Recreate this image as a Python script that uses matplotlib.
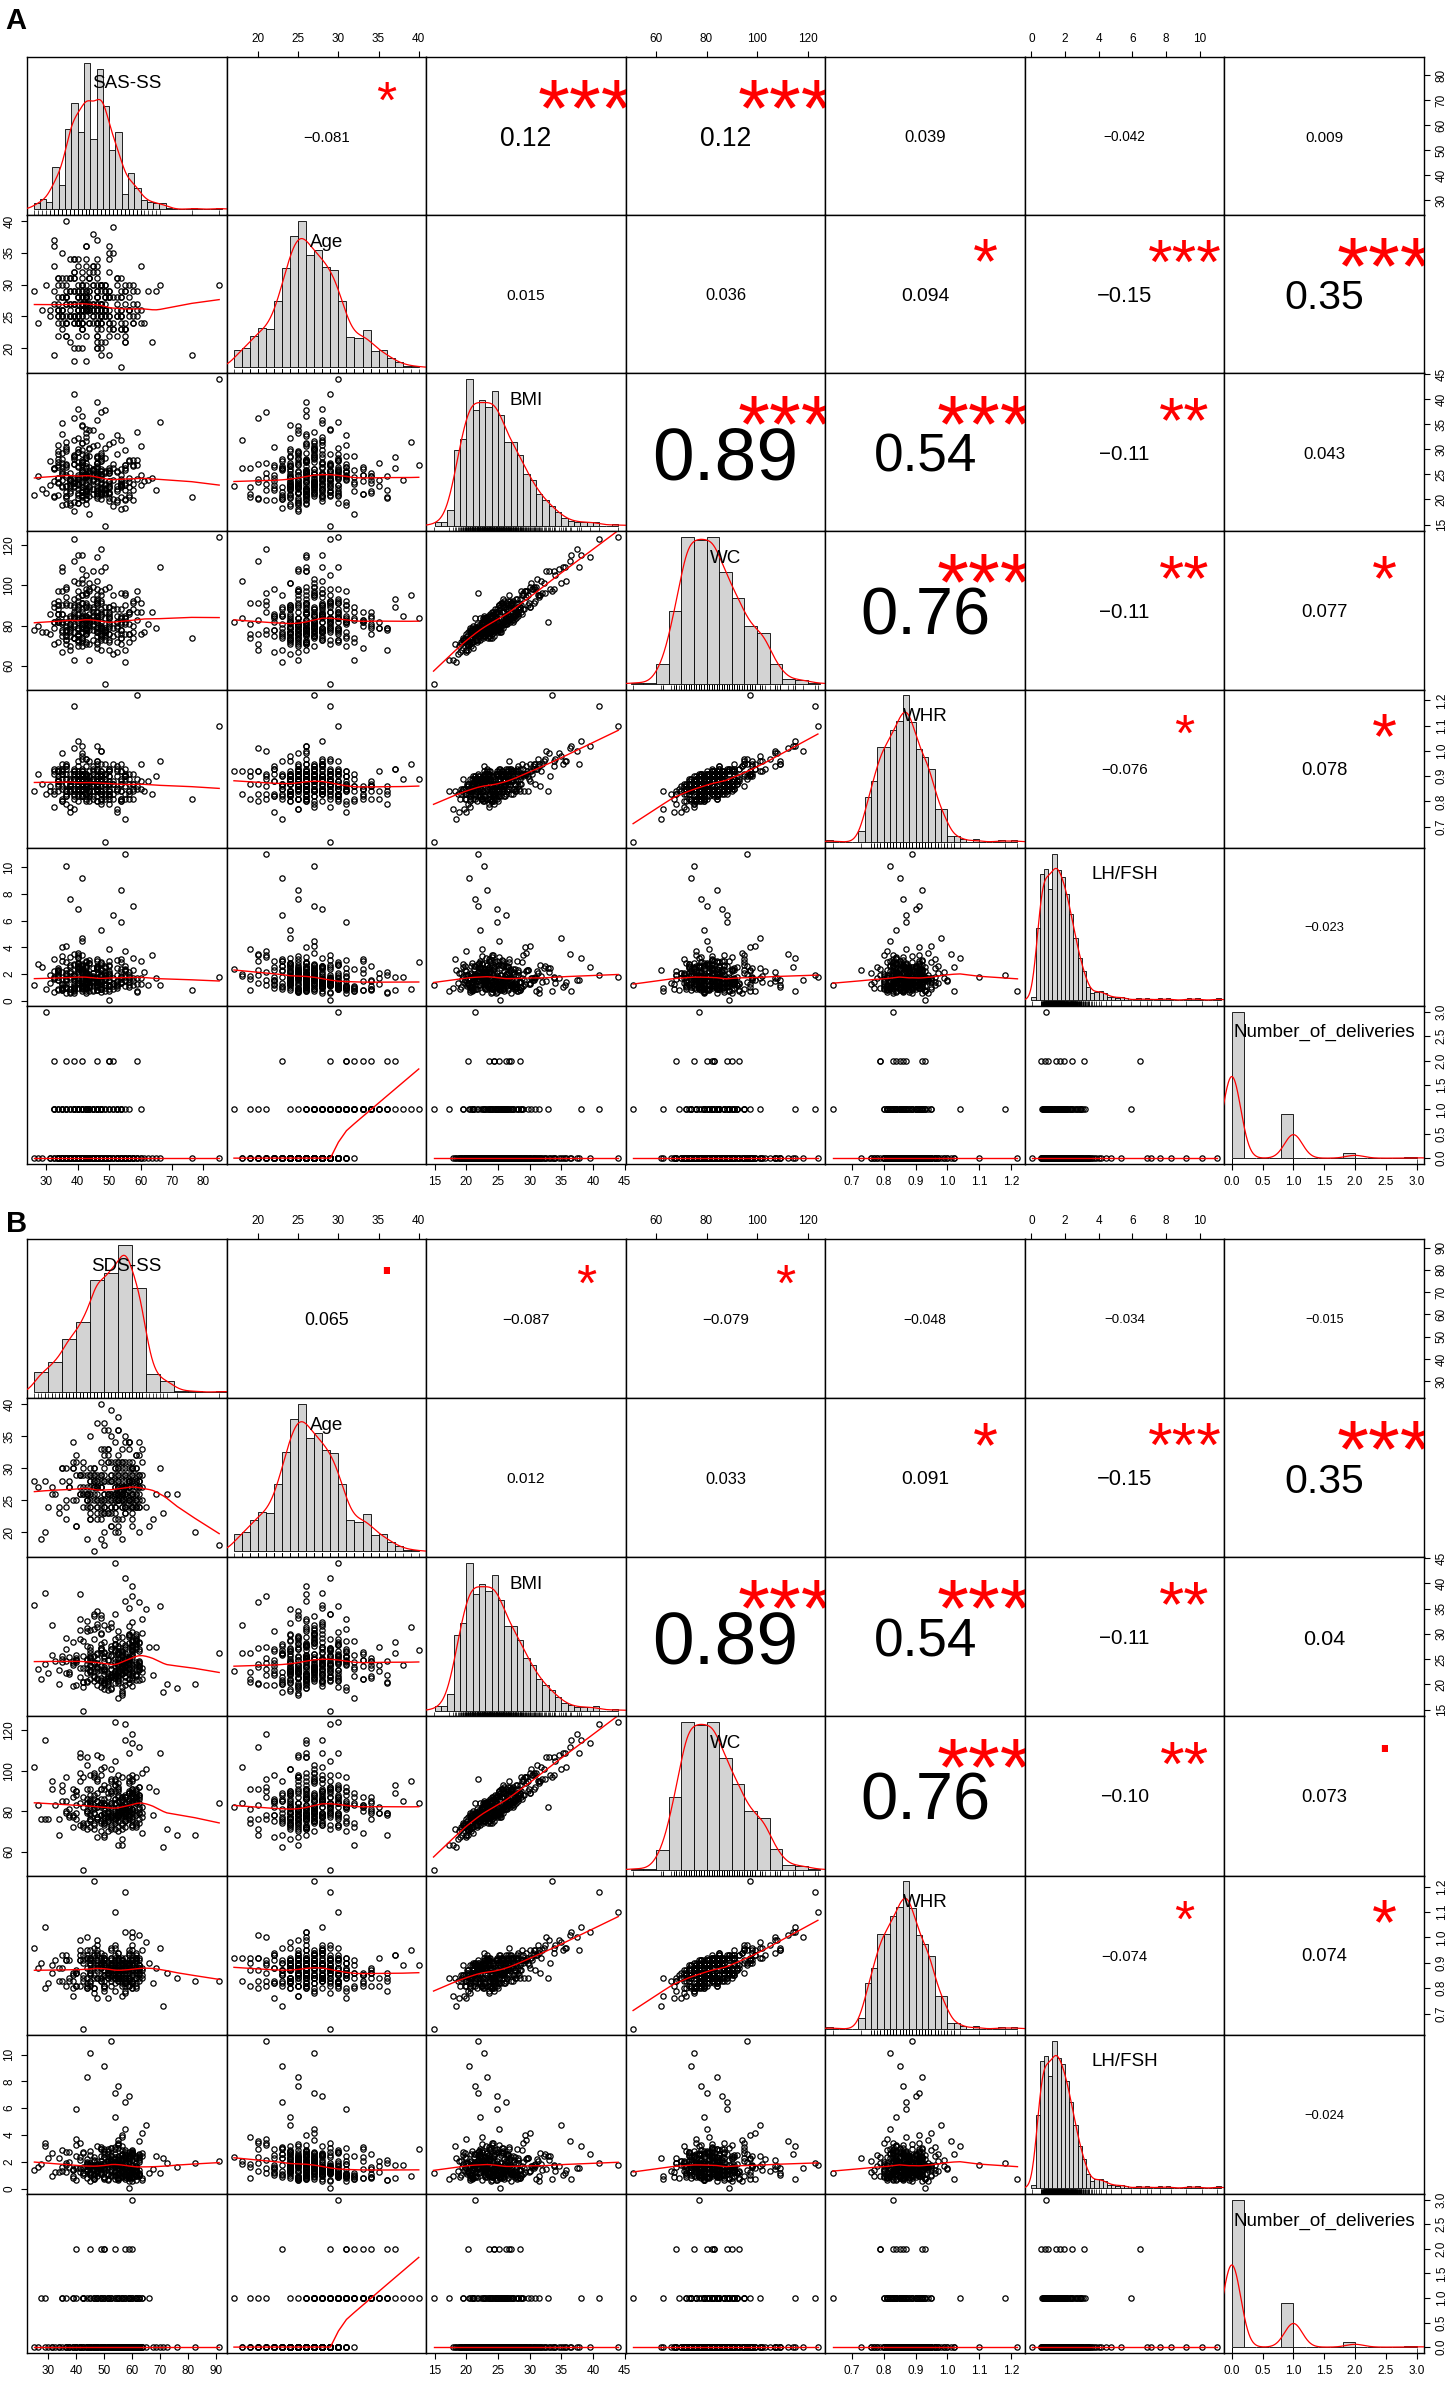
import numpy as np
import matplotlib
matplotlib.use("Agg")
import matplotlib.pyplot as plt
import matplotlib.transforms as mtransforms

plt.rcParams['font.family'] = ['Liberation Sans', 'DejaVu Sans']

# ---- subject values (one entry per woman, 10 per line) ----
sas_ss = [
    33.75, 38.75, 47.50, 52.50, 41.25, 56.25, 36.25, 50.00, 46.25, 42.50,
    40.00, 48.75, 58.75, 33.75, 46.25, 41.25, 53.75, 35.00, 37.50, 47.50,
    50.00, 42.50, 36.25, 53.75, 55.00, 40.00, 35.00, 48.75, 41.25, 32.50,
    46.25, 57.50, 41.25, 38.75, 32.50, 42.50, 47.50, 35.00, 51.25, 55.00,
    37.50, 56.25, 50.00, 42.50, 40.00, 46.25, 33.75, 52.50, 38.75, 60.00,
    47.50, 41.25, 33.75, 48.75, 58.75, 36.25, 42.50, 50.00, 37.50, 46.25,
    42.50, 53.75, 35.00, 40.00, 47.50, 52.50, 38.75, 41.25, 56.25, 45.00,
    48.75, 36.25, 46.25, 55.00, 41.25, 51.25, 47.50, 30.00, 42.50, 40.00,
    57.50, 47.50, 40.00, 33.75, 37.50, 52.50, 41.25, 46.25, 50.00, 35.00,
    41.25, 45.00, 53.75, 38.75, 48.75, 42.50, 32.50, 55.00, 36.25, 47.50,
    46.25, 40.00, 36.25, 50.00, 32.50, 53.75, 41.25, 58.75, 47.50, 42.50,
    38.75, 48.75, 60.00, 41.25, 46.25, 37.50, 52.50, 35.00, 40.00, 50.00,
    53.75, 42.50, 36.25, 47.50, 33.75, 55.00, 41.25, 38.75, 46.25, 28.75,
    50.00, 57.50, 47.50, 40.00, 42.50, 36.25, 35.00, 48.75, 53.75, 41.25,
    42.50, 37.50, 31.25, 46.25, 51.25, 40.00, 55.00, 61.25, 38.75, 47.50,
    56.25, 47.50, 41.25, 36.25, 45.00, 50.00, 42.50, 46.25, 33.75, 48.75,
    40.00, 33.75, 52.50, 43.75, 38.75, 41.25, 47.50, 45.00, 56.25, 42.50,
    46.25, 41.25, 55.00, 48.75, 36.25, 45.00, 50.00, 40.00, 42.50, 37.50,
    53.75, 35.00, 38.75, 42.50, 47.50, 43.75, 31.25, 46.25, 41.25, 50.00,
    41.25, 48.75, 45.00, 37.50, 58.75, 52.50, 40.00, 46.25, 42.50, 57.50,
    33.75, 36.25, 47.50, 41.25, 43.75, 38.75, 50.00, 42.50, 45.00, 35.00,
    43.75, 50.00, 40.00, 46.25, 42.50, 47.50, 85.00, 41.25, 53.75, 56.25,
    38.75, 46.25, 42.50, 35.00, 60.00, 40.00, 47.50, 43.75, 37.50, 51.25,
    47.50, 42.50, 48.75, 33.75, 45.00, 41.25, 46.25, 55.00, 53.75, 40.00,
    42.50, 32.50, 37.50, 50.00, 46.25, 43.75, 41.25, 47.50, 76.25, 38.75,
    56.25, 51.25, 41.25, 43.75, 36.25, 48.75, 45.00, 42.50, 62.50, 46.25,
    40.00, 43.75, 47.50, 38.75, 52.50, 41.25, 36.25, 35.00, 46.25, 42.50,
    48.75, 55.00, 42.50, 53.75, 40.00, 43.75, 37.50, 47.50, 41.25, 26.25,
    33.75, 38.75, 46.25, 41.25, 45.00, 50.00, 42.50, 57.50, 36.25, 47.50,
    41.25, 46.25, 57.50, 45.00, 32.50, 48.75, 40.00, 42.50, 52.50, 45.00,
    47.50, 40.00, 35.00, 38.75, 43.75, 51.25, 41.25, 46.25, 63.75, 42.50,
    36.25, 55.00, 48.75, 42.50, 46.25, 40.00, 53.75, 43.75, 38.75, 47.50,
    33.75, 41.25, 37.50, 50.00, 43.75, 45.00, 47.50, 27.50, 42.50, 46.25,
    43.75, 48.75, 40.00, 53.75, 41.25, 55.00, 42.50, 38.75, 46.25, 66.25,
    46.25, 42.50, 35.00, 36.25, 47.50, 43.75, 50.00, 41.25, 65.00, 40.00,
]

sds_ss = [
    56.25, 48.75, 61.25, 52.50, 43.75, 57.50, 45.00, 60.00, 38.75, 55.00,
    50.00, 58.75, 46.25, 62.50, 53.75, 41.25, 56.25, 35.00, 51.25, 60.00,
    47.50, 55.00, 63.75, 50.00, 57.50, 42.50, 58.75, 52.50, 31.25, 46.25,
    61.25, 53.75, 40.00, 56.25, 48.75, 60.00, 36.25, 55.00, 51.25, 58.75,
    45.00, 57.50, 52.50, 62.50, 28.75, 50.00, 55.00, 47.50, 60.00, 43.75,
    58.75, 51.25, 56.25, 37.50, 61.25, 48.75, 53.75, 45.00, 57.50, 66.25,
    52.50, 40.00, 60.00, 55.00, 46.25, 58.75, 50.00, 62.50, 42.50, 56.25,
    55.00, 61.25, 47.50, 33.75, 57.50, 52.50, 45.00, 60.00, 53.75, 48.75,
    60.00, 46.25, 55.00, 51.25, 63.75, 38.75, 57.50, 50.00, 58.75, 41.25,
    48.75, 56.25, 43.75, 60.00, 52.50, 61.25, 47.50, 71.25, 55.00, 36.25,
    57.50, 50.00, 58.75, 45.00, 55.00, 42.50, 60.00, 53.75, 27.50, 62.50,
    53.75, 41.25, 51.25, 57.50, 48.75, 56.25, 63.75, 46.25, 58.75, 50.00,
    45.00, 60.00, 55.00, 38.75, 61.25, 52.50, 47.50, 57.50, 43.75, 56.25,
    58.75, 47.50, 62.50, 53.75, 32.50, 56.25, 50.00, 60.00, 46.25, 55.00,
    51.25, 56.25, 45.00, 25.00, 57.50, 60.00, 40.00, 53.75, 61.25, 48.75,
    60.00, 43.75, 57.50, 50.00, 55.00, 46.25, 58.75, 67.50, 52.50, 42.50,
    47.50, 61.25, 53.75, 56.25, 37.50, 55.00, 60.00, 48.75, 62.50, 51.25,
    55.00, 50.00, 41.25, 58.75, 52.50, 45.00, 57.50, 61.25, 35.00, 76.25,
    62.50, 53.75, 57.50, 47.50, 60.00, 55.00, 43.75, 51.25, 58.75, 30.00,
    48.75, 58.75, 51.25, 63.75, 45.00, 56.25, 52.50, 38.75, 72.50, 60.00,
    56.25, 45.00, 60.00, 52.50, 57.50, 48.75, 62.50, 91.25, 41.25, 55.00,
    43.75, 57.50, 50.00, 61.25, 55.00, 40.00, 53.75, 58.75, 47.50, 56.25,
    60.00, 51.25, 46.25, 56.25, 33.75, 62.50, 82.50, 50.00, 57.50, 52.50,
    53.75, 60.00, 42.50, 55.00, 58.75, 47.50, 61.25, 36.25, 52.50, 68.75,
    57.50, 48.75, 55.00, 45.00, 60.00, 53.75, 50.00, 62.50, 43.75, 58.75,
    46.25, 56.25, 61.25, 51.25, 55.00, 37.50, 58.75, 48.75, 60.00, 53.75,
    55.00, 42.50, 57.50, 62.50, 47.50, 60.00, 52.50, 45.00, 56.25, 31.25,
    61.25, 50.00, 53.75, 46.25, 58.75, 55.00, 40.00, 57.50, 65.00, 48.75,
    52.50, 58.75, 45.00, 60.00, 35.00, 56.25, 61.25, 50.00, 53.75, 43.75,
    57.50, 47.50, 62.50, 55.00, 51.25, 41.25, 58.75, 53.75, 46.25, 60.00,
    50.00, 56.25, 38.75, 61.25, 57.50, 52.50, 47.50, 63.75, 55.00, 26.25,
    58.75, 45.00, 55.00, 50.00, 60.00, 43.75, 56.25, 48.75, 62.50, 53.75,
    42.50, 60.00, 57.50, 52.50, 46.25, 61.25, 55.00, 36.25, 58.75, 50.00,
    55.00, 51.25, 62.50, 47.50, 56.25, 40.00, 60.00, 53.75, 45.00, 70.00,
    60.00, 53.75, 48.75, 57.50, 43.75, 58.75, 50.00, 56.25, 61.25, 28.75,
]

age = [
    26, 29, 24, 31, 27, 25, 22, 28, 30, 26,
    33, 25, 27, 24, 20, 29, 26, 28, 31, 23,
    25, 36, 27, 26, 24, 30, 28, 21, 26, 29,
    24, 27, 32, 25, 19, 28, 30, 26, 23, 27,
    29, 26, 25, 34, 28, 24, 31, 22, 27, 26,
    30, 23, 26, 28, 25, 40, 29, 24, 27, 21,
    26, 31, 24, 27, 30, 25, 18, 28, 26, 33,
    28, 25, 29, 23, 26, 35, 24, 30, 27, 22,
    24, 27, 26, 31, 29, 25, 28, 20, 34, 26,
    27, 30, 25, 24, 28, 26, 37, 23, 29, 25,
    31, 26, 28, 22, 27, 24, 30, 26, 19, 28,
    25, 29, 33, 26, 24, 27, 31, 25, 28, 36,
    23, 26, 28, 30, 25, 21, 27, 29, 24, 26,
    29, 24, 27, 34, 26, 28, 25, 30, 17, 27,
    26, 31, 25, 28, 23, 26, 29, 24, 32, 27,
    30, 25, 27, 24, 38, 26, 28, 22, 25, 29,
    24, 28, 26, 31, 27, 20, 30, 25, 26, 33,
    27, 23, 29, 25, 28, 26, 35, 24, 30, 26,
    25, 30, 24, 27, 21, 29, 26, 28, 31, 24,
    28, 26, 32, 25, 29, 27, 24, 34, 26, 30,
    22, 27, 25, 29, 26, 31, 28, 18, 27, 25,
    26, 29, 24, 28, 36, 25, 30, 27, 23, 26,
    31, 25, 27, 26, 24, 29, 20, 28, 25, 39,
    24, 28, 26, 30, 27, 25, 32, 22, 29, 26,
    27, 33, 25, 28, 26, 24, 30, 27, 19, 34,
    28, 24, 30, 26, 22, 27, 33, 25, 29, 23,
    25, 31, 27, 20, 28, 26, 24, 35, 29, 27,
    30, 23, 26, 28, 25, 32, 21, 27, 24, 29,
    26, 34, 28, 24, 30, 19, 27, 25, 31, 26,
    23, 27, 29, 25, 36, 26, 28, 22, 30, 24,
    29, 25, 31, 27, 24, 28, 26, 33, 21, 27,
    24, 30, 26, 28, 22, 29, 25, 27, 32, 26,
    27, 25, 34, 23, 29, 26, 30, 24, 28, 37,
    31, 26, 24, 28, 27, 21, 29, 25, 26, 30,
    26, 28, 23, 30, 25, 27, 32, 24, 29, 20,
]

bmi = [
    23.4, 27.1, 20.8, 25.6, 31.2, 22.5, 24.9, 19.7, 28.3, 21.6,
    26.4, 22.1, 33.5, 24.2, 20.3, 29.0, 23.7, 25.1, 18.9, 27.6,
    21.2, 24.6, 30.1, 22.8, 26.9, 19.4, 35.2, 23.1, 25.8, 20.6,
    28.7, 21.9, 24.4, 17.8, 26.2, 32.4, 22.3, 25.3, 20.1, 29.8,
    23.9, 27.8, 21.4, 24.7, 38.1, 22.7, 26.5, 19.9, 23.3, 30.6,
    25.0, 20.9, 28.1, 22.0, 24.1, 26.8, 34.0, 21.1, 23.6, 27.3,
    19.2, 24.8, 22.6, 29.4, 21.7, 25.5, 31.8, 23.0, 20.4, 26.1,
    22.2, 27.0, 24.3, 20.0, 36.6, 23.8, 25.7, 21.3, 28.9, 22.9,
    26.6, 21.5, 24.0, 30.9, 22.4, 19.6, 27.4, 23.5, 25.2, 33.0,
    20.7, 25.9, 23.2, 28.5, 21.8, 24.5, 26.3, 18.4, 22.6, 29.2,
    24.6, 22.0, 31.5, 23.7, 26.0, 20.5, 25.4, 27.9, 21.0, 23.9,
    28.0, 21.4, 24.9, 19.8, 27.2, 22.8, 32.9, 25.6, 23.0, 20.2,
    22.5, 26.7, 20.6, 24.2, 29.6, 21.9, 23.4, 41.0, 25.0, 22.1,
    25.3, 23.1, 28.4, 21.2, 24.7, 26.4, 19.0, 30.3, 22.7, 27.5,
    21.6, 24.0, 22.9, 35.8, 26.2, 20.8, 25.8, 23.6, 28.6, 21.3,
    27.7, 22.3, 25.1, 20.3, 23.8, 31.0, 24.4, 21.8, 26.9, 14.8,
    23.5, 29.1, 21.7, 25.7, 22.4, 27.1, 24.1, 33.8, 20.9, 24.8,
    26.0, 20.4, 23.3, 28.2, 21.5, 25.2, 22.6, 30.0, 24.5, 19.3,
    22.8, 26.5, 24.3, 21.1, 37.4, 23.9, 27.6, 20.7, 25.5, 22.2,
    29.9, 21.0, 25.9, 23.2, 26.8, 22.0, 32.2, 24.6, 20.1, 27.8,
    24.2, 22.7, 28.8, 21.4, 25.0, 19.5, 23.7, 26.3, 30.7, 22.5,
    20.6, 25.6, 23.0, 27.3, 21.9, 24.9, 44.0, 22.4, 26.1, 23.4,
    27.0, 21.2, 24.4, 29.3, 22.9, 26.6, 20.0, 25.3, 23.8, 31.4,
    22.1, 28.4, 25.7, 20.8, 24.0, 34.6, 21.6, 26.9, 23.1, 27.4,
    25.1, 23.6, 21.3, 26.2, 39.5, 22.6, 24.7, 28.1, 20.5, 23.9,
    24.3, 18.7, 27.9, 22.0, 30.5, 25.4, 21.1, 33.2, 23.8, 26.7,
    20.2, 28.6, 23.5, 36.3, 22.7, 25.9, 19.1, 27.3, 24.6, 31.7,
    22.9, 26.3, 21.6, 24.1, 29.4, 17.2, 25.2, 23.0, 34.9, 20.8,
    27.5, 23.3, 30.8, 21.9, 25.7, 22.4, 28.2, 19.8, 24.4, 32.6,
    21.4, 25.0, 26.9, 23.6, 20.5, 37.8, 24.8, 22.2, 29.0, 26.1,
    25.6, 19.4, 23.9, 28.8, 22.5, 27.0, 31.3, 21.0, 24.2, 23.1,
    29.7, 22.8, 25.3, 20.9, 26.5, 24.0, 18.2, 30.2, 23.4, 27.7,
    23.2, 27.4, 21.7, 25.8, 33.9, 22.1, 26.0, 24.7, 20.3, 28.4,
    26.4, 21.3, 24.5, 31.9, 23.7, 19.9, 27.2, 22.6, 25.5, 35.5,
    22.3, 25.1, 28.0, 20.6, 24.9, 30.0, 23.0, 26.6, 21.8, 24.1,
]

wc = [
    82, 84, 74, 82, 103, 76, 78, 73, 91, 79,
    83, 78, 97, 86, 71, 95, 78, 90, 70, 85,
    76, 79, 99, 78, 82, 73, 109, 78, 91, 71,
    90, 80, 83, 63, 91, 96, 79, 78, 75, 95,
    84, 87, 84, 79, 115, 77, 90, 67, 80, 91,
    82, 77, 86, 78, 87, 84, 105, 72, 75, 92,
    72, 88, 75, 94, 73, 80, 102, 84, 72, 83,
    75, 91, 82, 68, 115, 79, 79, 77, 96, 75,
    88, 79, 78, 92, 79, 72, 87, 83, 80, 107,
    70, 87, 84, 89, 77, 78, 89, 62, 80, 97,
    84, 75, 94, 86, 82, 74, 79, 93, 76, 79,
    93, 73, 87, 72, 83, 80, 82, 81, 79, 68,
    76, 89, 77, 78, 97, 96, 85, 123, 79, 77,
    89, 77, 88, 76, 83, 82, 67, 98, 82, 88,
    76, 85, 76, 102, 88, 72, 90, 77, 87, 78,
    87, 80, 80, 73, 85, 99, 78, 78, 90, 51,
    82, 88, 76, 83, 81, 91, 76, 107, 76, 82,
    82, 74, 84, 89, 73, 88, 79, 89, 85, 68,
    81, 86, 77, 76, 118, 82, 86, 77, 82, 76,
    91, 76, 89, 77, 83, 79, 101, 87, 71, 91,
    82, 75, 95, 77, 78, 74, 82, 84, 99, 82,
    71, 87, 79, 85, 78, 79, 124, 81, 85, 81,
    90, 75, 79, 97, 76, 92, 68, 86, 81, 95,
    79, 89, 87, 72, 85, 108, 72, 85, 84, 90,
    79, 82, 78, 85, 114, 84, 84, 87, 74, 85,
    86, 66, 84, 80, 98, 77, 80, 98, 81, 95,
    70, 97, 75, 112, 85, 81, 71, 82, 87, 95,
    84, 81, 78, 74, 97, 63, 90, 75, 101, 78,
    83, 84, 98, 73, 93, 81, 85, 74, 75, 107,
    79, 77, 92, 78, 79, 109, 86, 84, 88, 81,
    91, 73, 77, 86, 82, 90, 95, 69, 87, 83,
    90, 84, 77, 79, 85, 84, 71, 101, 74, 86,
    82, 84, 81, 89, 98, 73, 92, 80, 77, 93,
    81, 79, 88, 96, 74, 76, 91, 74, 91, 109,
    79, 90, 86, 78, 80, 89, 84, 85, 79, 76,
]

whr = [
    0.90, 0.83, 0.84, 0.92, 0.93, 0.81, 0.91, 0.83, 0.85, 0.87,
    0.85, 0.89, 1.22, 0.89, 0.87, 0.91, 0.81, 0.93, 0.76, 0.90,
    0.88, 0.83, 0.95, 0.80, 0.90, 0.85, 0.95, 0.91, 0.89, 0.78,
    0.87, 0.91, 0.86, 0.77, 0.92, 0.97, 0.81, 0.86, 0.87, 0.90,
    0.89, 0.84, 0.90, 0.86, 1.04, 0.89, 0.88, 0.76, 0.85, 0.95,
    0.83, 0.86, 0.92, 0.83, 0.86, 0.89, 0.97, 0.87, 0.78, 0.90,
    0.85, 0.87, 0.80, 0.94, 0.88, 0.85, 0.92, 0.91, 0.83, 0.82,
    0.85, 0.93, 0.84, 0.83, 1.02, 0.81, 0.91, 0.83, 0.90, 0.88,
    0.87, 0.89, 0.84, 0.87, 0.88, 0.77, 0.90, 0.92, 0.84, 0.99,
    0.84, 0.86, 0.92, 0.89, 0.87, 0.81, 0.93, 0.73, 0.87, 0.91,
    0.86, 0.87, 0.94, 0.83, 0.91, 0.84, 0.82, 0.89, 0.90, 0.85,
    0.93, 0.81, 0.85, 0.85, 0.88, 0.91, 0.84, 0.85, 0.89, 0.79,
    0.81, 0.91, 0.89, 0.83, 0.92, 0.89, 0.91, 1.18, 0.80, 0.87,
    0.93, 0.84, 0.84, 0.86, 0.91, 0.84, 0.81, 0.91, 0.92, 0.85,
    0.89, 0.85, 0.86, 0.96, 0.87, 0.85, 0.86, 0.84, 0.91, 0.89,
    0.87, 0.88, 0.82, 0.87, 0.89, 0.93, 0.90, 0.82, 0.88, 0.64,
    0.91, 0.84, 0.85, 0.90, 0.84, 0.92, 0.80, 0.94, 0.89, 0.86,
    0.84, 0.85, 0.91, 0.86, 0.84, 0.92, 0.84, 0.92, 0.83, 0.84,
    0.88, 0.92, 0.82, 0.89, 1.00, 0.86, 0.84, 0.86, 0.90, 0.82,
    0.89, 0.87, 0.86, 0.87, 0.85, 0.90, 0.96, 0.86, 0.86, 0.85,
    0.88, 0.82, 0.95, 0.89, 0.82, 0.85, 0.92, 0.83, 0.93, 0.89,
    0.80, 0.92, 0.89, 0.85, 0.86, 0.81, 1.10, 0.88, 0.87, 0.91,
    0.92, 0.85, 0.80, 0.91, 0.88, 0.88, 0.83, 0.89, 0.84, 0.95,
    0.84, 0.87, 0.91, 0.86, 0.84, 0.99, 0.80, 0.93, 0.89, 0.88,
    0.88, 0.83, 0.86, 0.90, 1.02, 0.84, 0.91, 0.88, 0.81, 0.88,
    0.84, 0.83, 0.92, 0.84, 0.94, 0.91, 0.81, 0.90, 0.88, 0.96,
    0.86, 0.90, 0.79, 1.01, 0.94, 0.82, 0.83, 0.92, 0.87, 0.86,
    0.82, 0.90, 0.87, 0.80, 0.91, 0.84, 0.86, 0.90, 0.98, 0.84,
    0.92, 0.81, 0.95, 0.87, 0.88, 0.87, 0.94, 0.81, 0.79, 1.00,
    0.82, 0.90, 0.87, 0.91, 0.84, 0.95, 0.90, 0.82, 0.93, 0.89,
    0.92, 0.89, 0.80, 0.91, 0.83, 0.88, 0.97, 0.85, 0.83, 0.88,
    0.84, 0.90, 0.89, 0.83, 0.93, 0.82, 0.84, 0.92, 0.89, 0.87,
    0.93, 0.83, 0.87, 0.85, 0.96, 0.87, 0.88, 0.91, 0.83, 0.93,
    0.84, 0.90, 0.83, 0.95, 0.87, 0.81, 0.91, 0.89, 0.86, 0.96,
    0.89, 0.85, 0.91, 0.82, 0.92, 0.88, 0.81, 0.90, 0.90, 0.80,
]

lh_fsh = [
    2.48, 1.12, 1.36, 3.05, 2.21, 1.77, 0.98, 2.63, 1.42, 1.85,
    2.35, 1.21, 0.74, 1.96, 1.29, 3.42, 2.87, 1.58, 2.04, 0.86,
    1.55, 0.61, 4.12, 1.83, 1.48, 2.76, 1.03, 2.14, 0.92, 1.67,
    1.38, 7.14, 2.41, 0.97, 1.62, 2.58, 1.94, 0.83, 1.11, 2.29,
    0.55, 1.89, 2.02, 1.07, 3.18, 1.51, 0.79, 1.25, 2.66, 1.73,
    2.71, 1.02, 2.17, 1.61, 0.68, 2.93, 1.34, 1.76, 2.52, 1.19,
    1.04, 5.92, 1.28, 3.61, 2.08, 0.95, 1.87, 2.39, 1.16, 1.44,
    2.47, 1.64, 1.33, 2.26, 0.72, 1.71, 2.82, 0.88, 1.99, 1.57,
    1.69, 0.91, 3.27, 1.81, 0.64, 1.38, 1.09, 2.95, 1.46, 2.12,
    2.07, 1.41, 8.31, 0.81, 2.54, 0.99, 1.78, 2.31, 1.52, 1.23,
    1.47, 2.84, 0.58, 1.15, 2.19, 1.63, 2.68, 1.27, 1.86, 0.94,
    0.69, 1.21, 2.97, 1.58, 1.08, 1.74, 2.43, 0.77, 1.35, 1.92,
    1.79, 2.11, 1.01, 1.49, 2.28, 11.04, 1.18, 1.94, 1.66, 2.55,
    0.05, 3.21, 1.06, 2.61, 1.26, 1.97, 0.84, 1.72, 2.36, 1.31,
    1.62, 0.87, 1.91, 1.37, 6.43, 2.79, 1.54, 2.18, 0.96, 1.83,
    1.03, 1.88, 4.46, 1.24, 1.76, 0.71, 2.49, 1.48, 2.22, 1.14,
    0.93, 1.52, 1.95, 1.17, 2.74, 2.33, 0.89, 1.68, 1.39, 2.04,
    1.73, 9.18, 2.38, 0.76, 1.85, 1.44, 2.07, 1.28, 2.91, 1.61,
    2.14, 0.98, 1.22, 1.81, 1.57, 3.04, 1.35, 2.58, 1.09, 2.26,
    1.26, 1.59, 0.73, 2.67, 1.71, 1.19, 2.42, 0.82, 1.93, 1.47,
    2.29, 10.12, 2.88, 1.43, 1.01, 1.84, 1.12, 2.03, 1.54, 3.36,
    1.97, 2.71, 1.56, 1.05, 2.12, 0.63, 1.78, 2.46, 1.32, 1.65,
    0.57, 2.34, 1.48, 4.02, 1.27, 2.52, 1.89, 1.61, 2.19, 0.91,
    5.31, 1.39, 2.63, 0.85, 2.09, 1.67, 1.13, 1.74, 1.36, 2.41,
    0.88, 3.12, 7.62, 1.21, 2.56, 1.81, 1.44, 2.27, 0.78, 1.58,
    2.17, 1.34, 0.92, 2.81, 1.58, 1.96, 0.77, 2.44, 1.21, 3.09,
    1.73, 1.05, 2.36, 3.52, 1.47, 0.84, 2.08, 1.26, 1.62, 2.69,
    0.98, 2.57, 1.81, 1.39, 2.23, 0.71, 3.28, 1.55, 4.71, 1.14,
    2.02, 0.89, 1.67, 2.75, 1.31, 3.87, 1.92, 2.33, 0.96, 1.45,
    2.62, 1.78, 1.19, 2.11, 0.67, 1.53, 6.88, 2.94, 1.08, 1.86,
    1.37, 2.49, 0.93, 1.71, 2.86, 1.24, 2.05, 0.81, 3.44, 1.59,
    2.28, 1.12, 1.94, 0.74, 2.53, 1.43, 3.16, 1.68, 1.01, 2.39,
    1.52, 2.14, 0.86, 3.01, 1.76, 2.45, 1.18, 2.72, 1.33, 0.79,
    1.09, 1.88, 2.61, 1.41, 2.19, 3.73, 1.27, 1.97, 2.48, 1.16,
    2.35, 1.63, 2.96, 1.04, 1.83, 1.29, 0.89, 2.58, 1.71, 3.39,
]

deliveries = [
    0, 1, 0, 1, 0, 0, 0, 0, 0, 0,
    1, 0, 0, 0, 0, 0, 0, 1, 0, 0,
    0, 1, 0, 0, 0, 1, 0, 0, 0, 0,
    0, 0, 2, 0, 0, 0, 1, 0, 0, 1,
    0, 0, 0, 1, 1, 0, 0, 0, 0, 0,
    1, 0, 0, 0, 0, 1, 0, 0, 0, 1,
    0, 1, 0, 0, 0, 0, 0, 0, 1, 1,
    0, 0, 1, 0, 0, 1, 0, 3, 0, 0,
    0, 0, 0, 1, 0, 0, 0, 0, 2, 0,
    0, 0, 0, 0, 0, 0, 1, 0, 1, 0,
    0, 0, 0, 0, 1, 0, 1, 0, 1, 0,
    0, 0, 1, 0, 0, 0, 1, 0, 0, 2,
    0, 1, 0, 0, 0, 0, 0, 1, 0, 0,
    0, 0, 0, 1, 0, 1, 0, 0, 1, 0,
    0, 1, 0, 0, 2, 0, 0, 0, 1, 0,
    0, 0, 0, 0, 1, 0, 0, 0, 0, 1,
    1, 0, 0, 0, 0, 1, 0, 0, 0, 1,
    0, 0, 0, 0, 0, 0, 1, 0, 1, 0,
    0, 0, 0, 1, 0, 0, 0, 0, 1, 0,
    0, 0, 1, 0, 2, 0, 0, 1, 0, 0,
    0, 0, 1, 0, 0, 1, 0, 0, 0, 0,
    0, 0, 0, 1, 1, 0, 0, 0, 0, 0,
    2, 0, 0, 0, 0, 0, 0, 0, 0, 1,
    0, 0, 0, 1, 0, 0, 0, 0, 0, 0,
    0, 2, 0, 0, 0, 0, 0, 1, 0, 1,
    0, 0, 1, 0, 0, 0, 1, 0, 0, 0,
    0, 1, 0, 0, 0, 0, 0, 1, 1, 0,
    1, 0, 0, 1, 0, 1, 0, 0, 0, 0,
    0, 1, 0, 0, 0, 0, 1, 0, 2, 0,
    0, 0, 0, 0, 1, 0, 0, 0, 1, 0,
    1, 0, 1, 0, 0, 0, 0, 1, 0, 0,
    0, 0, 0, 0, 0, 1, 0, 1, 1, 0,
    0, 0, 1, 0, 0, 0, 1, 0, 0, 2,
    1, 0, 0, 0, 0, 0, 0, 0, 1, 0,
    0, 1, 0, 0, 0, 0, 1, 0, 0, 0,
]

# ---- histogram bars (first break, bin width, heights) ----
sas_hist = (26, 2, [18, 30, 23, 126, 73, 241, 320, 233, 440, 212, 423, 310, 178, 232, 47,
                    108, 63, 28, 23, 18, 18, 5, 0, 0, 0, 5, 0, 0, 0, 5])
sds_hist = (25, 5, [59, 89, 160, 210, 335, 355, 440, 311, 54, 34, 5, 3, 0, 3])
age_hist = (17, 1, [53, 58, 95, 118, 115, 201, 298, 395, 441, 338, 355, 303, 293, 201, 93,
                    88, 113, 48, 53, 28, 15, 5, 5])
bmi_hist = (15, 1, [12, 12, 48, 225, 260, 438, 345, 375, 355, 403, 330, 250, 250, 210, 155,
                    135, 95, 75, 60, 40, 22, 15, 10, 10, 10, 12, 0, 0, 5])
wc_hist = (50, 5, [3, 3, 58, 217, 438, 430, 438, 333, 255, 173, 153, 60, 15, 12, 3])
whr_hist = (0.62, 0.02, [5, 0, 0, 0, 0, 31, 135, 181, 283, 283, 335, 363, 438, 358, 278,
                         253, 217, 98, 98, 18, 18, 8, 0, 8, 0, 0, 0, 5, 0, 5])
lh_hist = (0, 0.25, [10, 215, 375, 390, 330, 435, 385, 365, 315, 255, 185, 125, 85, 40, 20,
                     25, 27, 20, 10, 10, 5, 10, 5, 0, 0, 5, 0, 5, 0, 0, 5, 0, 5, 0, 0,
                     0, 0, 5, 0, 5, 0, 0, 0, 0, 5])
del_hist = (0, 0.2, [440, 0, 0, 0, 133, 0, 0, 0, 0, 15, 0, 0, 0, 0, 2])

# ---- tick labels ----
ticks_sas = ["30", "40", "50", "60", "70", "80"]
ticks_sds = ["30", "40", "50", "60", "70", "80", "90"]
ticks_age = ["20", "25", "30", "35", "40"]
ticks_bmi = ["15", "20", "25", "30", "35", "40", "45"]
ticks_wc = ["60", "80", "100", "120"]
ticks_whr = ["0.7", "0.8", "0.9", "1.0", "1.1", "1.2"]
ticks_lh = ["0", "2", "4", "6", "8", "10"]
ticks_del = ["0.0", "0.5", "1.0", "1.5", "2.0", "2.5", "3.0"]

# ---- correlations (upper triangle, row by row) ----
r_a = ["-0.081", "0.12", "0.12", "0.039", "-0.042", "0.009",
       "0.015", "0.036", "0.094", "-0.15", "0.35",
       "0.89", "0.54", "-0.11", "0.043",
       "0.76", "-0.11", "0.077",
       "-0.076", "0.078",
       "-0.023"]
sig_a = ["*", "***", "***", "", "", "",
         "", "", "*", "***", "***",
         "***", "***", "**", "",
         "***", "**", "*",
         "*", "*",
         ""]
r_b = ["0.065", "-0.087", "-0.079", "-0.048", "-0.034", "-0.015",
       "0.012", "0.033", "0.091", "-0.15", "0.35",
       "0.89", "0.54", "-0.11", "0.04",
       "0.76", "-0.10", "0.073",
       "-0.074", "0.074",
       "-0.024"]
sig_b = [".", "*", "*", "", "", "",
         "", "", "*", "***", "***",
         "***", "***", "**", "",
         "***", "**", ".",
         "*", "*",
         ""]

others = ["Age", "BMI", "WC", "WHR", "LH/FSH", "Number_of_deliveries"]


def lowess(x, y, f=2 / 3, iters=3):
    x = np.asarray(x, float)
    y = np.asarray(y, float)
    o = np.argsort(x, kind="stable")
    x, y = x[o], y[o]
    n = len(x)
    ns = max(int(f * n + 1e-7), 2)
    d = np.abs(x[:, None] - x[None, :])
    h = np.sort(d, axis=1)[:, ns - 1]
    with np.errstate(divide="ignore", invalid="ignore"):
        u = np.where(h[:, None] > 0, d / h[:, None], np.where(d == 0, 0.0, 1.0))
    w = np.where(u < 0.999, (1 - np.clip(u, 0, 1) ** 3) ** 3, 0.0)
    w[u <= 0.001] = 1.0
    rob = np.ones(n)
    fit = np.zeros(n)
    rng = x.max() - x.min()
    for k in range(iters + 1):
        W = w * rob[None, :]
        s0 = W.sum(1)
        ok = s0 > 0
        s0 = np.where(ok, s0, 1.0)
        xb = (W * x).sum(1) / s0
        yb = (W * y).sum(1) / s0
        var = (W * (x[None, :] - xb[:, None]) ** 2).sum(1) / s0
        cov = (W * (x[None, :] - xb[:, None]) * (y[None, :] - yb[:, None])).sum(1) / s0
        slope = np.where(np.sqrt(np.maximum(var, 0)) > 0.001 * rng,
                         cov / np.where(var > 0, var, 1), 0.0)
        fit = np.where(ok, yb + slope * (x - xb), fit)
        if k == iters:
            break
        res = y - fit
        cmad = 6 * np.median(np.abs(res))
        if cmad < 1e-7 * np.mean(np.abs(y)) or cmad == 0:
            break
        r = np.abs(res) / cmad
        rob = np.where(r < 0.999, (1 - r ** 2) ** 2, 0.0)
        rob[r <= 0.001] = 1.0
    return x, fit


def nrd0(sd, iqr, n):
    lo = min(sd, iqr / 1.34)
    if lo <= 0:
        lo = sd
    return 0.9 * lo * n ** -0.2


def kde_data(v):
    v = np.asarray(v, float)
    q75, q25 = np.percentile(v, [75, 25])
    bw = nrd0(v.std(ddof=1), q75 - q25, len(v))
    gx = np.linspace(v.min() - 3 * bw, v.max() + 3 * bw, 512)
    gy = np.exp(-0.5 * ((gx[:, None] - v[None, :]) / bw) ** 2).sum(1) / (len(v) * bw * np.sqrt(2 * np.pi))
    return gx, gy


def kde_hist(start, width, counts, n):
    # density curve of the distribution the histogram shows
    c = np.asarray(counts, float)
    p = c / c.sum()
    centers = start + width * (np.arange(len(c)) + 0.5)
    edges = start + width * np.arange(len(c) + 1)
    mu = (p * centers).sum()
    sd = np.sqrt((p * (centers - mu) ** 2).sum() + width ** 2 / 12)
    cdf = np.concatenate([[0], np.cumsum(p)])
    q25, q75 = np.interp([0.25, 0.75], cdf, edges)
    bw = nrd0(sd, q75 - q25, n)
    keep = c > 0
    gx = np.linspace(edges[0] - 3 * bw, edges[-1] + 3 * bw, 512)
    gy = (p[keep][None, :] * np.exp(-0.5 * ((gx[:, None] - centers[keep][None, :]) / bw) ** 2)).sum(1) \
        / (bw * np.sqrt(2 * np.pi))
    return gx, gy


W_PX, H_PX = 1451, 2381
fig = plt.figure(figsize=(W_PX / 100, H_PX / 100), dpi=100)
renderer = fig.canvas.get_renderer()


def text_width(s, size):
    t = fig.text(0, 0, s, fontsize=size)
    w = t.get_window_extent(renderer).width
    t.remove()
    return w


def set_ticks(ax, axis, side, labels):
    vals = [float(s) for s in labels]
    if axis == "x":
        ax.set_xticks(vals)
        ax.set_xticklabels(labels)
        ax.tick_params(axis="x", top=side == "top", bottom=side == "bottom",
                       labeltop=side == "top", labelbottom=side == "bottom")
    else:
        ax.set_yticks(vals)
        ax.set_yticklabels(labels, rotation=90, va="center")
        ax.tick_params(axis="y", left=side == "left", right=side == "right",
                       labelleft=side == "left", labelright=side == "right")


def draw_matrix(first, first_name, first_hist, first_ticks, r_list, s_list, top, bottom, left=27, right=1424):
    cols = [np.asarray(c, float) for c in [first, age, bmi, wc, whr, lh_fsh, deliveries]]
    names = [first_name] + others
    hists = [first_hist, age_hist, bmi_hist, wc_hist, whr_hist, lh_hist, del_hist]
    ticks = [first_ticks, ticks_age, ticks_bmi, ticks_wc, ticks_whr, ticks_lh, ticks_del]
    lims = []
    for c in cols:
        r = c.max() - c.min()
        lims.append((c.min() - 0.04 * r, c.max() + 0.04 * r))
    pw = (right - left) / 7
    ph = (bottom - top) / 7
    k = 0
    for i in range(7):
        for j in range(7):
            rect = [(left + j * pw) / W_PX, 1 - (top + (i + 1) * ph) / H_PX, pw / W_PX, ph / H_PX]
            ax = fig.add_axes(rect)
            ax.set_xlim(lims[j])
            ax.set_ylim(lims[i])
            for sp in ax.spines.values():
                sp.set_linewidth(1.0)
            ax.set_xticks([])
            ax.set_yticks([])
            ax.tick_params(axis="both", direction="out", length=4.5, width=0.8,
                           pad=4, labelsize=8.5,
                           bottom=False, top=False, left=False, right=False,
                           labelbottom=False, labeltop=False, labelleft=False, labelright=False)
            if i > j:
                ax.plot(cols[j], cols[i], linestyle="none", marker="o", ms=3.8,
                        mfc="none", mec="black", mew=0.9)
                lx, ly = lowess(cols[j], cols[i])
                ax.plot(lx, ly, color="red", lw=1.0)
            elif i < j:
                txt = r_list[k].replace("-", "\u2212")
                rv = abs(float(r_list[k]))
                sig = s_list[k]
                k += 1
                base = 100 * 0.8 * pw / text_width(txt, 100)
                fs = base * (rv + 0.3) / 1.3
                tr = mtransforms.offset_copy(ax.transAxes, fig=fig, x=0, y=-0.10 * fs, units="points")
                ax.text(0.5, 0.5, txt, transform=tr, ha="center", va="center",
                        fontsize=fs, clip_on=True)
                if sig:
                    off = -0.31 if sig.startswith("*") else 0.21
                    tr2 = mtransforms.offset_copy(ax.transAxes, fig=fig, x=0, y=off * base, units="points")
                    ax.text(0.8, 0.8, sig, transform=tr2, ha="center", va="center",
                            fontsize=base, color="red", clip_on=True)
            else:
                start, width, counts = hists[i]
                counts = np.asarray(counts, float)
                dens = counts / (counts.sum() * width)
                edges = start + width * np.arange(len(counts))
                tw = fig.add_axes(rect)
                tw.set_xlim(lims[j])
                tw.bar(edges, dens, width=width, align="edge", color="#d3d3d3",
                       edgecolor="black", linewidth=0.6)
                if i == 6:
                    gx, gy = kde_data(cols[i])
                else:
                    gx, gy = kde_hist(start, width, counts, len(cols[i]))
                tw.plot(gx, gy, color="red", lw=0.9)
                m = dens.max()
                tw.set_ylim(-0.04 * m, 1.04 * m)
                tw.vlines(cols[i], 0, 0.03, transform=tw.get_xaxis_transform(),
                          color="black", lw=0.5)
                tw.axis("off")
                tw.text(0.5, 0.83, names[i], transform=tw.transAxes, ha="center",
                        va="center", fontsize=13.5)
            # outer axes, alternating like pairs()
            if i == 0 and j % 2 == 1:
                set_ticks(ax, "x", "top", ticks[j])
            if i == 6 and j % 2 == 0:
                set_ticks(ax, "x", "bottom", ticks[j])
            if j == 0 and i % 2 == 1:
                set_ticks(ax, "y", "left", ticks[i])
            if j == 6 and i % 2 == 0:
                set_ticks(ax, "y", "right", ticks[i])


draw_matrix(sas_ss, "SAS-SS", sas_hist, ticks_sas, r_a, sig_a, top=57, bottom=1164)
draw_matrix(sds_ss, "SDS-SS", sds_hist, ticks_sds, r_b, sig_b, top=1239, bottom=2353)

fig.text(5 / W_PX, 1 - 29 / H_PX, "A", fontsize=21, fontweight="bold", ha="left", va="baseline")
fig.text(6 / W_PX, 1 - 1232 / H_PX, "B", fontsize=21, fontweight="bold", ha="left", va="baseline")

fig.savefig("out.png", dpi=100)
